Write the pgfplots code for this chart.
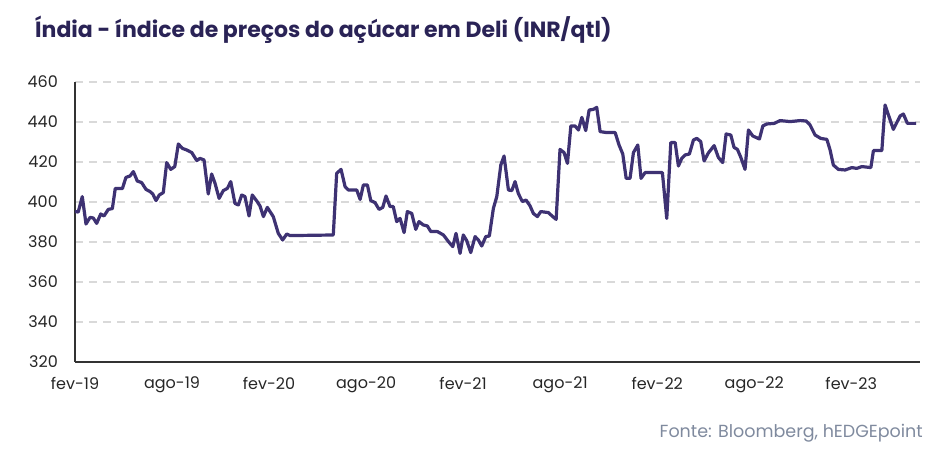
\documentclass[border=0pt]{standalone}
\usepackage{fontspec}
\setmainfont{Poppins}
\usepackage{pgfplots}
\pgfplotsset{compat=1.18}
\definecolor{linec}{HTML}{3E3273}
\definecolor{titlec}{HTML}{2A2356}
\definecolor{srcc}{HTML}{7F8A9E}
\definecolor{gridc}{HTML}{D9D9D9}
\definecolor{axc}{HTML}{333333}
\begin{document}
\begin{tikzpicture}[x=1bp,y=1bp]
\path[use as bounding box] (0,0) rectangle (945,457);
\node[anchor=base west, inner sep=0pt, text=titlec, font=\fontsize{22bp}{26bp}\selectfont\bfseries] at (35,419.5) {Índia - índice de preços do açúcar em Deli (INR/qtl)};
\node[anchor=base east, inner sep=0pt, text=srcc, font=\fontsize{17.5bp}{21bp}\selectfont] at (923,19.5) {Fonte: Bloomberg, hEDGEpoint};
\begin{axis}[
  at={(75bp,95bp)}, anchor=south west,
  scale only axis, width=845bp, height=280bp,
  xmin=0, xmax=52.25, ymin=320, ymax=460,
  axis x line=bottom, axis y line=left,
  axis line style={-, color=axc, line width=1.3bp},
  xtick={0,6,12,18,24,30,36,42,48},
  xticklabels={fev-19,ago-19,fev-20,ago-20,fev-21,ago-21,fev-22,ago-22,fev-23},
  ytick={320,340,...,460},
  major tick length=0pt,
  /pgf/number format/assume math mode=true,
  tick label style={font=\fontsize{16bp}{19bp}\selectfont, text=black!85},
  yticklabel style={anchor=east, inner sep=0pt, xshift=-17bp},
  xticklabel style={anchor=north, inner sep=0pt, yshift=-15bp},
  ymajorgrids,
  grid style={color=gridc, line width=1.2bp, dash pattern=on 8bp off 6bp},
  clip=false,
]
\addplot[color=linec, line width=3.2bp, line join=round] coordinates {
(0,395.2)(0.2,395)(0.45,402.7)(0.68,389)(0.93,392.3)(1.13,392)(1.34,389.3)(1.59,394)(1.79,393)(2.06,396.3)(2.31,396.7)(2.49,406.8)(2.93,406.7)(3.15,412.3)(3.40,413)(3.61,415.2)(3.85,410.5)(4.12,409.7)(4.39,406.3)(4.64,405.2)(4.81,404)(5.01,400.7)(5.21,403.5)(5.46,404.7)(5.67,419.7)(5.92,416.3)(6.17,417.7)(6.39,429)(6.64,426.8)(6.91,426)(7.22,424.7)(7.53,420.7)(7.73,421.8)(7.98,421)(8.24,404)(8.45,414)(8.66,409.3)(8.91,401.8)(9.17,405.7)(9.42,406.8)(9.63,410.2)(9.89,399.3)(10.10,398.5)(10.31,403.5)(10.51,402.7)(10.76,393)(10.96,403.5)(11.24,400.5)(11.44,398)(11.65,392.7)(11.89,397.3)(12.26,392.7)(12.57,384.3)(12.84,381)(13.09,384)(13.30,383.2)(15.97,383.5)(16.18,414.3)(16.45,416.3)(16.70,407.7)(16.90,406)(17.42,406)(17.63,401.3)(17.83,408.5)(18.08,408.5)(18.29,400.7)(18.55,399.7)(18.80,396.3)(19.03,397.3)(19.23,403)(19.48,397.7)(19.68,397.7)(19.89,390.2)(20.10,391.8)(20.35,384.7)(20.55,395.2)(20.82,394.3)(21.07,386.3)(21.27,390.2)(21.54,388.5)(21.79,388)(22.00,385.2)(22.41,385.2)(22.78,383.5)(23.09,380.2)(23.36,377.7)(23.56,384.3)(23.81,374.3)(24.01,383.5)(24.22,380.7)(24.47,374.7)(24.74,382.7)(24.94,381)(25.15,378)(25.40,382.7)(25.62,383)(25.87,396.8)(26.08,402.7)(26.33,418.5)(26.53,423)(26.80,406)(27.01,405.7)(27.21,410.2)(27.41,404.3)(27.66,400.2)(27.89,401)(28.14,398)(28.34,394.3)(28.59,392.7)(28.80,395.2)(29.27,394.7)(29.54,392.7)(29.75,391.3)(29.99,426.3)(30.24,424.7)(30.45,419.3)(30.66,438)(30.92,438)(31.13,436)(31.34,442.3)(31.58,435.7)(31.79,446)(32.05,446.3)(32.26,447.3)(32.47,435.2)(32.88,434.7)(33.40,434.7)(33.64,428.5)(33.87,424)(34.08,411.8)(34.32,411.8)(34.53,424.7)(34.80,428.5)(35.00,411.8)(35.25,414.7)(36.32,414.7)(36.59,391.8)(36.84,429.7)(37.11,429.7)(37.31,418)(37.52,421.8)(37.72,423.5)(37.99,424)(38.24,431)(38.45,431.8)(38.69,430.2)(38.90,420.5)(39.16,424.5)(39.52,428.2)(39.78,422.3)(40.05,419.7)(40.26,434)(40.55,433.5)(40.75,427.3)(40.96,426.3)(41.17,422.3)(41.43,416.3)(41.64,436)(41.91,433)(42.32,431.5)(42.53,438)(42.77,439)(43.23,439.3)(43.60,440.7)(44.22,440.2)(44.84,440.7)(45.21,440.5)(45.45,438.5)(45.76,433.5)(46.11,431.8)(46.49,431.3)(46.69,426)(46.89,418.5)(47.20,416.3)(47.62,416)(48.03,417.2)(48.34,416.8)(48.65,417.7)(49.21,417.2)(49.37,425.7)(49.89,425.7)(50.09,448.5)(50.60,436.3)(51.02,443)(51.22,444)(51.47,439.3)(52.01,439.3)
};
\end{axis}
\end{tikzpicture}
\end{document}
